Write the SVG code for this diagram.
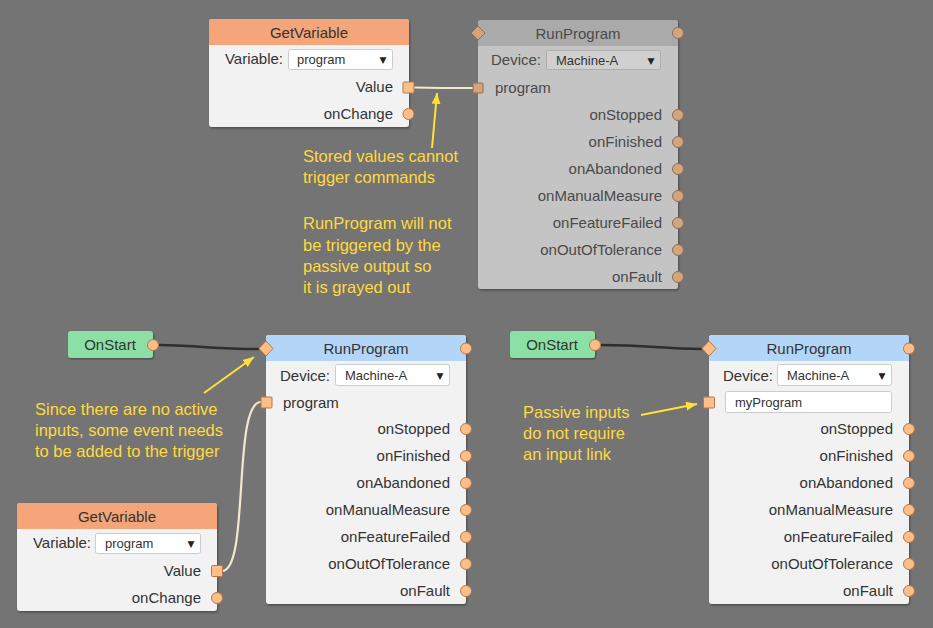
<svg xmlns="http://www.w3.org/2000/svg" width="933" height="628" viewBox="0 0 933 628">
<defs>
<style>
text{font-family:"Liberation Sans",Arial,sans-serif;}
.t{font-size:15px;fill:#333;}
.tg{font-size:15px;fill:#4a4a4a;}
.e{text-anchor:end;}
.m{text-anchor:middle;}
.dd{font-size:13px;fill:#333;}
.ar{font-size:9px;fill:#222;text-anchor:middle;font-family:"DejaVu Sans",sans-serif;}
.note{font-size:16.5px;fill:#FFDA3C;}
.body{fill:#F2F2F2;}
.gbody{fill:#C4C4C4;}
.orange{fill:#F4A57A;}
.blue{fill:#B3D6F8;}
.gray{fill:#AAAAAA;}
.green{fill:#8DE0A5;}
.port{fill:#FDBE88;stroke:#B5774A;stroke-width:1;}
.gport{fill:#D4A47C;stroke:#8E6F56;stroke-width:1;}
.box{fill:#FFFFFF;stroke:#CCCCCC;stroke-width:1;}
.gbox{fill:#D0D0D0;stroke:#ADADAD;stroke-width:1;}
.wire{fill:none;stroke:#F1E9CB;stroke-width:2.2;}
.ev{fill:none;stroke:#2E2E2E;stroke-width:2.5;}
.yarrow{fill:none;stroke:#FFE233;stroke-width:2;marker-end:url(#ah);}
</style>
<marker id="ah" markerUnits="userSpaceOnUse" markerWidth="12" markerHeight="10" refX="11" refY="4.5" orient="auto">
<path d="M0,0 L11,4.5 L0,9 z" fill="#FFE233"/>
</marker>
<filter id="sh" x="-5%" y="-5%" width="110%" height="110%">
<feDropShadow dx="1" dy="1.5" stdDeviation="1.2" flood-color="#000" flood-opacity="0.35"/>
</filter>
</defs>
<rect x="0" y="0" width="933" height="628" fill="#747474"/>

<g id="connectors">
<path class="wire" d="M414,87.5 C440,88 450,88 473,88"/>
<path class="wire" d="M222,571 C250,571 232,402 261,402"/>
<path class="ev" d="M159,345 C205,346 215,349 259,349"/>
<path class="ev" d="M601,345 C650,345 660,349 702,349"/>
</g>

<g id="getvariable-top">
<rect x="209" y="19" width="200" height="108" rx="3" class="body" filter="url(#sh)"/>
<rect x="209" y="19" width="200" height="26" rx="3" class="orange"/>
<rect x="209" y="35" width="200" height="10" class="orange"/>
<text x="309" y="38" class="t m">GetVariable</text>
<text x="283" y="64" class="t e">Variable:</text>
<rect x="288.5" y="49.5" width="104" height="20" rx="2" class="box"/>
<text x="297" y="64" class="dd">program</text>
<text x="383" y="63" class="ar">▼</text>
<text x="393" y="92" class="t e">Value</text>
<rect x="403" y="82" width="11" height="11" rx="1" class="port"/>
<text x="393" y="119" class="t e">onChange</text>
<circle cx="408.5" cy="114" r="5.5" class="port"/>
</g>

<g id="runprogram-top">
<rect x="478" y="20" width="200" height="269" rx="3" class="gbody" filter="url(#sh)"/>
<rect x="478" y="20" width="200" height="26" rx="3" class="gray"/>
<rect x="478" y="36" width="200" height="10" class="gray"/>
<text x="578" y="39" class="tg m">RunProgram</text>
<polygon points="478,26 485,33 478,40 471,33" class="gport"/>
<circle cx="678" cy="33" r="5.5" class="gport"/>
<text x="541" y="65" class="tg e">Device:</text>
<rect x="546.5" y="50.5" width="114" height="19" rx="2" class="gbox"/>
<text x="556" y="64.5" class="dd" fill="#444">Machine-A</text>
<text x="651" y="64" class="ar">▼</text>
<rect x="473" y="83" width="10" height="10" rx="1" class="gport"/>
<text x="495" y="93" class="tg">program</text>
<text x="662" y="120" class="tg e">onStopped</text>
<circle cx="678" cy="115" r="5.5" class="gport"/>
<text x="662" y="147" class="tg e">onFinished</text>
<circle cx="678" cy="142" r="5.5" class="gport"/>
<text x="662" y="174" class="tg e">onAbandoned</text>
<circle cx="678" cy="169" r="5.5" class="gport"/>
<text x="662" y="201" class="tg e">onManualMeasure</text>
<circle cx="678" cy="196" r="5.5" class="gport"/>
<text x="662" y="228" class="tg e">onFeatureFailed</text>
<circle cx="678" cy="223" r="5.5" class="gport"/>
<text x="662" y="255" class="tg e">onOutOfTolerance</text>
<circle cx="678" cy="250" r="5.5" class="gport"/>
<text x="662" y="282" class="tg e">onFault</text>
<circle cx="678" cy="277" r="5.5" class="gport"/>
</g>

<g id="onstart-left">
<rect x="68" y="331" width="85" height="27" rx="3" class="green" filter="url(#sh)"/>
<text x="110" y="350" class="t m">OnStart</text>
<circle cx="153" cy="345" r="5.5" class="port"/>
</g>

<g id="runprogram-left">
<rect x="266" y="335" width="200" height="269" rx="3" class="body" filter="url(#sh)"/>
<rect x="266" y="335" width="200" height="26" rx="3" class="blue"/>
<rect x="266" y="351" width="200" height="10" class="blue"/>
<text x="366" y="354" class="t m">RunProgram</text>
<polygon points="266,341 273,348.5 266,356 259,348.5" class="port"/>
<circle cx="466" cy="348.5" r="5.5" class="port"/>
<text x="330" y="381" class="t e">Device:</text>
<rect x="335.5" y="364.5" width="114" height="21" rx="2" class="box"/>
<text x="345" y="380" class="dd">Machine-A</text>
<text x="440" y="379" class="ar">▼</text>
<rect x="261" y="397" width="11" height="11" rx="1" class="port"/>
<text x="283" y="408" class="t">program</text>
<text x="450" y="434" class="t e">onStopped</text>
<circle cx="466" cy="429" r="5.5" class="port"/>
<text x="450" y="461" class="t e">onFinished</text>
<circle cx="466" cy="456" r="5.5" class="port"/>
<text x="450" y="488" class="t e">onAbandoned</text>
<circle cx="466" cy="483" r="5.5" class="port"/>
<text x="450" y="515" class="t e">onManualMeasure</text>
<circle cx="466" cy="510" r="5.5" class="port"/>
<text x="450" y="542" class="t e">onFeatureFailed</text>
<circle cx="466" cy="537" r="5.5" class="port"/>
<text x="450" y="569" class="t e">onOutOfTolerance</text>
<circle cx="466" cy="564" r="5.5" class="port"/>
<text x="450" y="596" class="t e">onFault</text>
<circle cx="466" cy="591" r="5.5" class="port"/>
</g>

<g id="getvariable-bottom">
<rect x="17" y="503" width="200" height="108" rx="3" class="body" filter="url(#sh)"/>
<rect x="17" y="503" width="200" height="26" rx="3" class="orange"/>
<rect x="17" y="519" width="200" height="10" class="orange"/>
<text x="117" y="522" class="t m">GetVariable</text>
<text x="91" y="548" class="t e">Variable:</text>
<rect x="95.5" y="533.5" width="105" height="20" rx="2" class="box"/>
<text x="105" y="548" class="dd">program</text>
<text x="191" y="547" class="ar">▼</text>
<text x="201" y="576" class="t e">Value</text>
<rect x="211.5" y="565.5" width="11" height="11" rx="1" class="port"/>
<text x="201" y="603" class="t e">onChange</text>
<circle cx="217" cy="598" r="5.5" class="port"/>
</g>

<g id="onstart-right">
<rect x="510" y="331" width="85" height="27" rx="3" class="green" filter="url(#sh)"/>
<text x="552" y="350" class="t m">OnStart</text>
<circle cx="595" cy="345" r="5.5" class="port"/>
</g>

<g id="runprogram-right">
<rect x="709" y="335" width="200" height="269" rx="3" class="body" filter="url(#sh)"/>
<rect x="709" y="335" width="200" height="26" rx="3" class="blue"/>
<rect x="709" y="351" width="200" height="10" class="blue"/>
<text x="809" y="354" class="t m">RunProgram</text>
<polygon points="709,341 716,348.5 709,356 702,348.5" class="port"/>
<circle cx="909" cy="348.5" r="5.5" class="port"/>
<text x="773" y="381" class="t e">Device:</text>
<rect x="777.5" y="364.5" width="114" height="21" rx="2" class="box"/>
<text x="787" y="380" class="dd">Machine-A</text>
<text x="882" y="379" class="ar">▼</text>
<rect x="703.5" y="397" width="11" height="11" rx="1" class="port"/>
<rect x="725.5" y="391.5" width="166" height="21" rx="2" class="box"/>
<text x="735" y="407" class="dd">myProgram</text>
<text x="893" y="434" class="t e">onStopped</text>
<circle cx="909" cy="429" r="5.5" class="port"/>
<text x="893" y="461" class="t e">onFinished</text>
<circle cx="909" cy="456" r="5.5" class="port"/>
<text x="893" y="488" class="t e">onAbandoned</text>
<circle cx="909" cy="483" r="5.5" class="port"/>
<text x="893" y="515" class="t e">onManualMeasure</text>
<circle cx="909" cy="510" r="5.5" class="port"/>
<text x="893" y="542" class="t e">onFeatureFailed</text>
<circle cx="909" cy="537" r="5.5" class="port"/>
<text x="893" y="569" class="t e">onOutOfTolerance</text>
<circle cx="909" cy="564" r="5.5" class="port"/>
<text x="893" y="596" class="t e">onFault</text>
<circle cx="909" cy="591" r="5.5" class="port"/>
</g>

<g id="annotations">
<line x1="432" y1="148" x2="437" y2="93" class="yarrow"/>
<line x1="204" y1="393" x2="254" y2="357" class="yarrow"/>
<line x1="641" y1="415" x2="697" y2="404" class="yarrow"/>
<text class="note"><tspan x="303" y="162">Stored values cannot</tspan><tspan x="303" y="183">trigger commands</tspan></text>
<text class="note"><tspan x="303" y="229">RunProgram will not</tspan><tspan x="303" y="251">be triggered by the</tspan><tspan x="303" y="272">passive output so</tspan><tspan x="303" y="293">it is grayed out</tspan></text>
<text class="note"><tspan x="35" y="415">Since there are no active</tspan><tspan x="35" y="436">inputs, some event needs</tspan><tspan x="35" y="457">to be added to the trigger</tspan></text>
<text class="note"><tspan x="523" y="418">Passive inputs</tspan><tspan x="523" y="439">do not require</tspan><tspan x="523" y="460">an input link</tspan></text>
</g>
</svg>
